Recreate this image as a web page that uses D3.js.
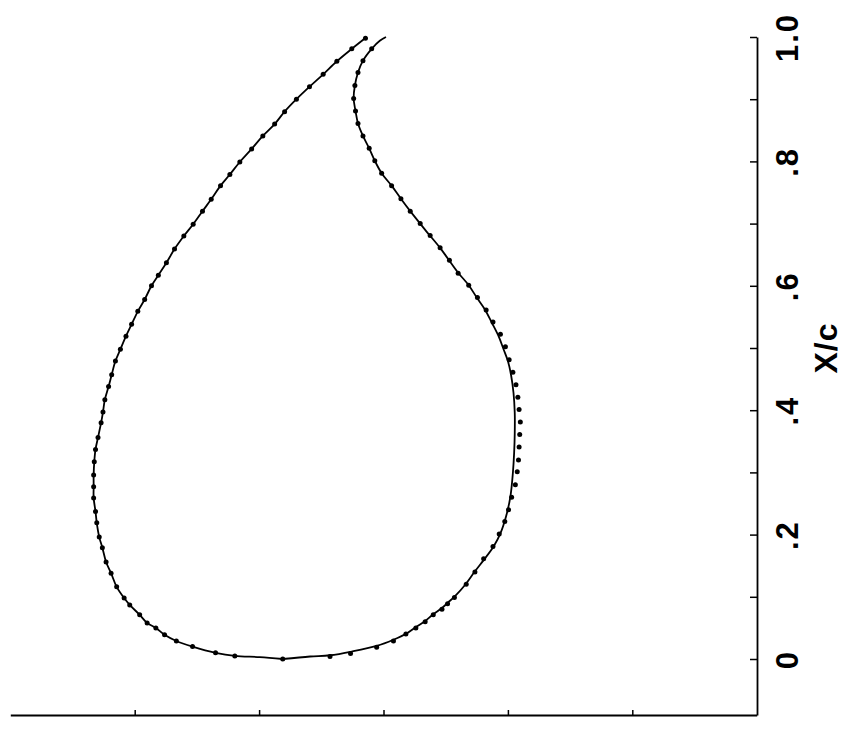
<!DOCTYPE html>
<html><head><meta charset="utf-8">
<script src="https://cdn.jsdelivr.net/npm/d3@7"></script>
<style>
html,body{margin:0;padding:0;background:#fff;}
svg{display:block;}
</style>
</head><body>
<svg id="chart" width="845" height="729"></svg>
<script>
// [X/c, Y/c]
const suctionCalc = [[0,0.162],[0.003,0.199],[0.005,0.239],[0.010,0.270],[0.020,0.307],[0.029,0.333],[0.039,0.352],[0.050,0.366],[0.058,0.380],[0.071,0.392],[0.087,0.408],[0.098,0.417],[0.116,0.429],[0.138,0.438],[0.156,0.446],[0.179,0.452],[0.196,0.457],[0.219,0.461],[0.237,0.463],[0.259,0.466],[0.277,0.466],[0.296,0.466],[0.317,0.465],[0.337,0.463],[0.356,0.459],[0.380,0.454],[0.397,0.451],[0.417,0.448],[0.438,0.442],[0.457,0.437],[0.479,0.431],[0.498,0.423],[0.519,0.414],[0.538,0.405],[0.559,0.395],[0.578,0.384],[0.600,0.373],[0.617,0.362],[0.637,0.349],[0.659,0.336],[0.680,0.321],[0.699,0.306],[0.720,0.291],[0.739,0.277],[0.761,0.262],[0.779,0.247],[0.799,0.231],[0.820,0.212],[0.841,0.194],[0.860,0.175],[0.880,0.159],[0.900,0.140],[0.920,0.119],[0.940,0.097],[0.961,0.075],[0.981,0.051],[1.0,0.027]];
const suctionExp = [[0,0.162],[0.005,0.239],[0.010,0.270],[0.020,0.307],[0.029,0.333],[0.039,0.352],[0.050,0.366],[0.058,0.380],[0.071,0.392],[0.087,0.408],[0.098,0.417],[0.116,0.429],[0.138,0.438],[0.156,0.446],[0.179,0.452],[0.196,0.457],[0.219,0.461],[0.237,0.463],[0.259,0.466],[0.277,0.466],[0.296,0.466],[0.317,0.465],[0.337,0.463],[0.356,0.459],[0.380,0.454],[0.397,0.451],[0.417,0.448],[0.438,0.442],[0.457,0.437],[0.479,0.431],[0.498,0.423],[0.519,0.414],[0.538,0.405],[0.559,0.395],[0.578,0.384],[0.600,0.373],[0.617,0.362],[0.637,0.349],[0.659,0.336],[0.680,0.321],[0.699,0.306],[0.720,0.291],[0.739,0.277],[0.761,0.262],[0.779,0.247],[0.799,0.231],[0.820,0.212],[0.841,0.194],[0.860,0.175],[0.880,0.159],[0.900,0.140],[0.920,0.119],[0.940,0.097],[0.961,0.075],[0.981,0.051],[0.998,0.029]];
const pressureCalc = [[0,0.162],[0.004,0.118],[0.006,0.086],[0.012,0.051],[0.021,0.011],[0.031,-0.016],[0.041,-0.037],[0.052,-0.053],[0.061,-0.067],[0.072,-0.080],[0.082,-0.094],[0.091,-0.104],[0.101,-0.115],[0.119,-0.131],[0.141,-0.147],[0.159,-0.161],[0.181,-0.177],[0.202,-0.188],[0.229,-0.197],[0.261,-0.204],[0.299,-0.208],[0.331,-0.210],[0.363,-0.211],[0.396,-0.211],[0.428,-0.209],[0.457,-0.205],[0.479,-0.200],[0.498,-0.193],[0.519,-0.185],[0.541,-0.174],[0.562,-0.163],[0.581,-0.150],[0.601,-0.137],[0.621,-0.120],[0.643,-0.104],[0.661,-0.091],[0.690,-0.067],[0.720,-0.043],[0.740,-0.028],[0.761,-0.013],[0.781,0.003],[0.801,0.014],[0.821,0.023],[0.841,0.033],[0.861,0.041],[0.881,0.045],[0.901,0.048],[0.922,0.046],[0.943,0.041],[0.962,0.033],[0.981,0.019],[0.994,0.006],[1.0,-0.004]];
const pressureExp = [[0.004,0.086],[0.009,0.053],[0.019,0.011],[0.029,-0.016],[0.040,-0.036],[0.050,-0.052],[0.060,-0.067],[0.071,-0.080],[0.080,-0.094],[0.089,-0.103],[0.099,-0.114],[0.120,-0.133],[0.140,-0.147],[0.161,-0.161],[0.181,-0.176],[0.201,-0.186],[0.221,-0.195],[0.240,-0.201],[0.260,-0.206],[0.280,-0.212],[0.301,-0.215],[0.320,-0.217],[0.341,-0.218],[0.361,-0.219],[0.381,-0.220],[0.401,-0.218],[0.421,-0.216],[0.441,-0.213],[0.461,-0.208],[0.481,-0.202],[0.502,-0.196],[0.522,-0.188],[0.542,-0.176],[0.561,-0.165],[0.581,-0.151],[0.601,-0.137],[0.620,-0.120],[0.641,-0.106],[0.661,-0.091],[0.681,-0.075],[0.700,-0.059],[0.720,-0.043],[0.740,-0.028],[0.761,-0.013],[0.781,0.003],[0.801,0.014],[0.821,0.023],[0.841,0.033],[0.861,0.041],[0.881,0.045],[0.901,0.048],[0.922,0.046],[0.943,0.041],[0.962,0.033],[0.981,0.019]];
const xcTicks = [0,0.1,0.2,0.3,0.4,0.5,0.6,0.7,0.8,0.9,1.0];
const xcLabels = {"0":"0","0.2":".2","0.4":".4","0.6":".6","0.8":".8","1":"1.0"};
const ycTicks = [0.4,0.2,0,-0.2,-0.4];
const axisTitle = "X/c";

const svg = d3.select("#chart");
// X/c runs vertically (up), Y/c runs horizontally (increasing to the left)
const yScale = d3.scaleLinear().domain([0,1]).range([659,37]);
const xScale = d3.scaleLinear().domain([0.6,-0.6]).range([10.3,756.7]);
const axisX = 757, axisY = 715;

// right axis (X/c)
const yAxisScale = d3.scaleLinear().domain([yScale.invert(axisY),1]).range([axisY,37]);
const gR = svg.append("g").attr("transform",`translate(${axisX},0)`)
  .call(d3.axisRight(yAxisScale).tickValues(xcTicks).tickSizeInner(-7).tickSizeOuter(0)
    .tickFormat(d => { const k = String(+d.toFixed(1)); return xcLabels[k] || ""; }));
gR.select(".domain").attr("stroke","#000").attr("stroke-width",1.8);
gR.selectAll(".tick line").attr("stroke","#000").attr("stroke-width",1.5);
gR.selectAll(".tick text")
  .attr("x",0).attr("dy",null)
  .attr("transform","translate(30,0) rotate(-90)")
  .attr("text-anchor","middle").attr("dominant-baseline","central")
  .style("font-family","'Liberation Sans', Arial, sans-serif")
  .style("font-weight","bold").style("font-size","31px").style("letter-spacing","2px")
  .attr("fill","#000");

// bottom axis (Y/c)
const gB = svg.append("g").attr("transform",`translate(0,${axisY})`)
  .call(d3.axisBottom(xScale).tickValues(ycTicks).tickSizeInner(-5).tickSizeOuter(0).tickFormat(""));
gB.select(".domain").attr("stroke","#000").attr("stroke-width",1.8);
gB.selectAll(".tick line").attr("stroke","#000").attr("stroke-width",1.5);

// axis title
svg.append("text").text(axisTitle)
  .attr("transform",`translate(826,${yScale(0.5)}) rotate(-90)`)
  .attr("text-anchor","middle").attr("dominant-baseline","central")
  .style("font-family","'Liberation Sans', Arial, sans-serif")
  .style("font-weight","bold").style("font-size","32px").style("letter-spacing","1px").attr("fill","#000");

const line = d3.line().x(d => xScale(d[1])).y(d => yScale(d[0])).curve(d3.curveCatmullRom.alpha(0.5));
[suctionCalc, pressureCalc].forEach(s => {
  svg.append("path").datum(s).attr("d",line).attr("fill","none").attr("stroke","#000").attr("stroke-width",1.8);
});
[suctionExp, pressureExp].forEach(s => {
  svg.append("g").selectAll("circle").data(s).join("circle")
    .attr("cx", d => xScale(d[1])).attr("cy", d => yScale(d[0])).attr("r",2.5).attr("fill","#000");
});
</script>
</body></html>
